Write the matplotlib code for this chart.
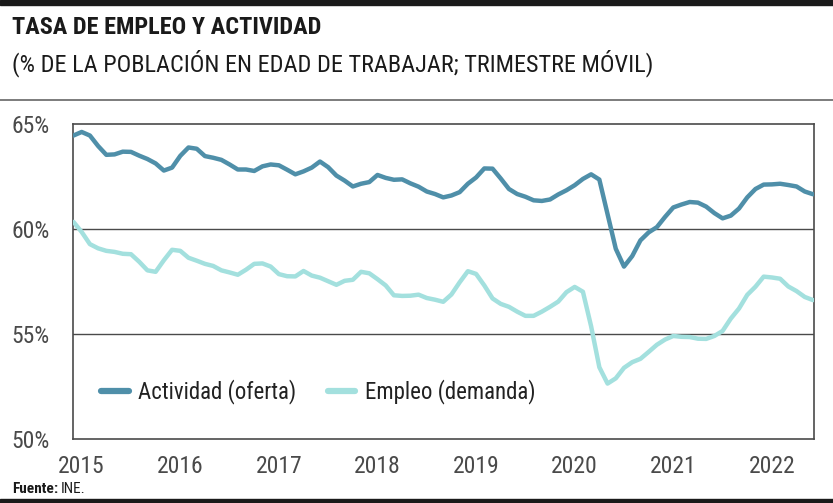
import numpy as np
import matplotlib
matplotlib.use("Agg")
import matplotlib.pyplot as plt
from matplotlib.lines import Line2D

# monthly moving-quarter values, Dec 2014 .. Jun 2022
START_YEAR = 2014
START_MONTH = 12

actividad = [
    64.45, 64.62, 64.45, 63.95, 63.53, 63.55, 63.68, 63.67, 63.49, 63.33,
    63.12, 62.78, 62.92, 63.48, 63.88, 63.82, 63.47, 63.39, 63.29, 63.07,
    62.83, 62.83, 62.76, 62.98, 63.07, 63.03, 62.82, 62.60, 62.74, 62.92,
    63.21, 62.94, 62.54, 62.30, 62.02, 62.15, 62.23, 62.57, 62.43, 62.34,
    62.36, 62.17, 62.01, 61.78, 61.66, 61.50, 61.59, 61.75, 62.15, 62.45,
    62.88, 62.87, 62.40, 61.90, 61.66, 61.53, 61.36, 61.33, 61.40, 61.64,
    61.84, 62.08, 62.38, 62.60, 62.35, 60.70, 59.05, 58.20, 58.70, 59.45,
    59.83, 60.08, 60.57, 61.02, 61.16, 61.28, 61.25, 61.06, 60.75, 60.50,
    60.63, 60.97, 61.50, 61.90, 62.11, 62.12, 62.15, 62.09, 62.02, 61.78,
    61.65,
]

empleo = [
    60.33, 59.85, 59.27, 59.07, 58.95, 58.90, 58.81, 58.79, 58.43, 58.02,
    57.95, 58.50, 59.00, 58.95, 58.62, 58.48, 58.33, 58.23, 58.02, 57.92,
    57.81, 58.05, 58.33, 58.35, 58.20, 57.84, 57.74, 57.73, 57.99, 57.77,
    57.67, 57.50, 57.33, 57.52, 57.57, 57.95, 57.88, 57.60, 57.30, 56.83,
    56.80, 56.81, 56.86, 56.70, 56.62, 56.52, 56.87, 57.45, 57.98, 57.85,
    57.30, 56.68, 56.42, 56.28, 56.05, 55.85, 55.85, 56.05, 56.28, 56.53,
    56.98, 57.23, 57.00, 55.35, 53.40, 52.62, 52.87, 53.37, 53.64, 53.80,
    54.13, 54.47, 54.72, 54.89, 54.85, 54.84, 54.76, 54.75, 54.89, 55.13,
    55.72, 56.20, 56.85, 57.24, 57.72, 57.68, 57.62, 57.25, 57.03, 56.75,
    56.60,
]

years = [2015, 2016, 2017, 2018, 2019, 2020, 2021, 2022]
y_ticks = [50, 55, 60, 65]
series_labels = ["Actividad (oferta)", "Empleo (demanda)"]

COLOR_ACT = "#4f8fa9"
COLOR_EMP = "#a3e0de"
GRAY = "#4a4a4a"
FONT = ["Roboto Condensed", "Liberation Sans Narrow", "DejaVu Sans"]


def month_positions(n):
    # Jan 1st of a year sits on the year tick
    return np.array([START_YEAR + (START_MONTH - 1 + i) / 12 for i in range(n)])


def main():
    plt.rcParams["font.family"] = FONT
    W, H = 833, 503
    fig = plt.figure(figsize=(W / 100, H / 100), dpi=100)

    # black bands top and bottom, grey rule under the header
    fig.patches.append(plt.Rectangle((0, 1 - 4.5 / H), 1, 4.5 / H, transform=fig.transFigure,
                                     color="#1a1a1a", zorder=0))
    fig.patches.append(plt.Rectangle((0, 0), 1, 4 / H, transform=fig.transFigure,
                                     color="#1a1a1a", zorder=0))
    fig.add_artist(Line2D([0, 1], [1 - 100 / H, 1 - 100 / H], transform=fig.transFigure,
                          color="#666666", lw=1.2))

    fig.text(12 / W, 1 - 28 / H, "TASA DE EMPLEO Y ACTIVIDAD", fontsize=17.5, fontweight="bold",
             color="#1a1a1a", va="center", ha="left")
    fig.text(12 / W, 1 - 63 / H, "(% DE LA POBLACIÓN EN EDAD DE TRABAJAR; TRIMESTRE MÓVIL)",
             fontsize=17.5, color="#1a1a1a", va="center", ha="left")
    src = fig.text(12 / W, 1 - 489 / H, "Fuente:", fontsize=11, fontweight="bold",
                   color="#1a1a1a", va="center", ha="left")
    fig.canvas.draw()
    bb = src.get_window_extent()
    fig.text((bb.x1 + 3) / W, 1 - 489 / H, "INE.", fontsize=11, color="#1a1a1a",
             va="center", ha="left")

    ax = fig.add_axes([73 / W, 1 - 438.5 / H, (814 - 73) / W, (438.5 - 124) / H])
    x = month_positions(len(actividad))
    ax.plot(x, actividad, color=COLOR_ACT, lw=3.2, solid_capstyle="round", solid_joinstyle="round",
            label=series_labels[0], zorder=3)
    ax.plot(x, empleo, color=COLOR_EMP, lw=3.2, solid_capstyle="round", solid_joinstyle="round",
            label=series_labels[1], zorder=3)

    ax.set_xlim(2014.912, 2022.427)
    ax.set_ylim(50, 65)
    ax.set_xticks(years)
    ax.set_xticklabels([str(y) for y in years])
    ax.set_yticks(y_ticks)
    ax.set_yticklabels([f"{v}%" for v in y_ticks])
    ax.tick_params(axis="both", length=0, labelsize=17, labelcolor=GRAY)
    ax.tick_params(axis="x", pad=12)
    ax.tick_params(axis="y", pad=17)
    for v in [55, 60]:
        ax.axhline(v, color=GRAY, lw=1, zorder=1)
    for s in ax.spines.values():
        s.set_color(GRAY)
        s.set_linewidth(1.2)

    leg = ax.legend(loc="center left", bbox_to_anchor=(101 / W, 1 - 392 / H),
                    bbox_transform=fig.transFigure, ncol=2, frameon=False, fontsize=16.5,
                    handlelength=1.2, handletextpad=0.4, columnspacing=1.4, borderpad=0,
                    borderaxespad=0)
    for line in leg.get_lines():
        line.set_linewidth(4.5)
        line.set_solid_capstyle("round")
    for t in leg.get_texts():
        t.set_color("#222222")

    fig.savefig("out.png", dpi=100)


if __name__ == "__main__":
    main()
